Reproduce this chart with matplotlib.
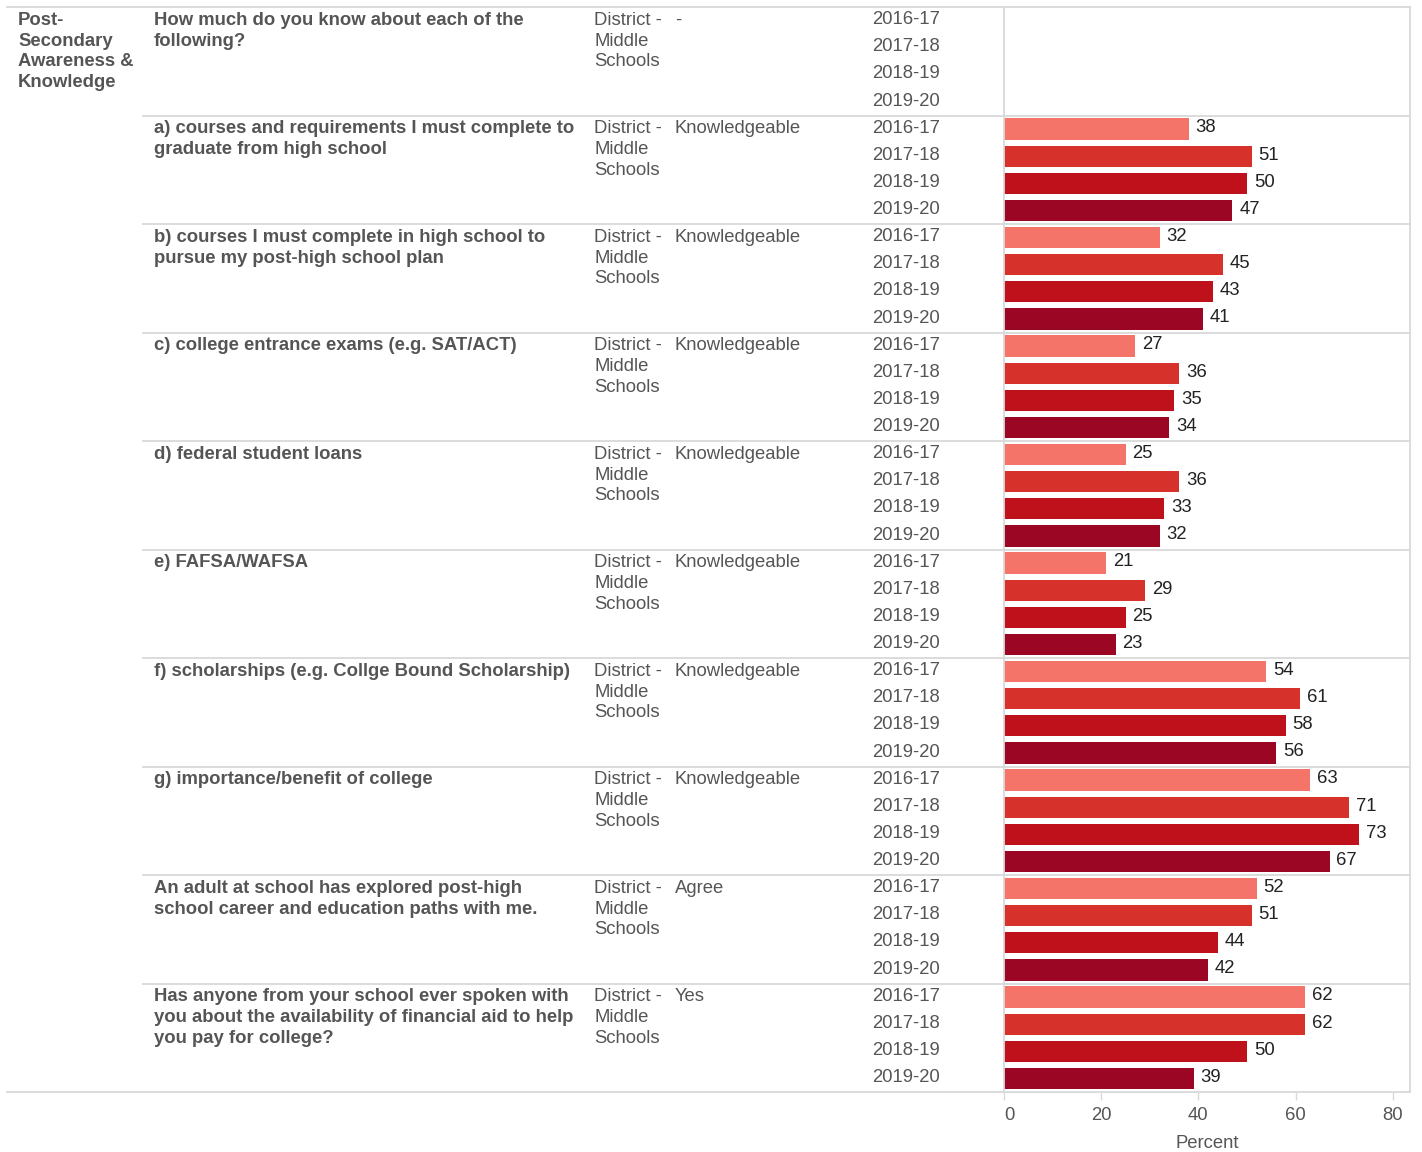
import numpy as np
import matplotlib
matplotlib.use('Agg')
import matplotlib.pyplot as plt
from matplotlib.lines import Line2D
from matplotlib.transforms import blended_transform_factory

plt.rcParams['font.family'] = ['Liberation Sans', 'DejaVu Sans']

# DATA
section = 'Post-\nSecondary\nAwareness &\nKnowledge'
questions = [
    'How much do you know about each of the\nfollowing?',
    'a) courses and requirements I must complete to\ngraduate from high school',
    'b) courses I must complete in high school to\npursue my post-high school plan',
    'c) college entrance exams (e.g. SAT/ACT)',
    'd) federal student loans',
    'e) FAFSA/WAFSA',
    'f) scholarships (e.g. Collge Bound Scholarship)',
    'g) importance/benefit of college',
    'An adult at school has explored post-high\nschool career and education paths with me.',
    'Has anyone from your school ever spoken with\nyou about the availability of financial aid to help\nyou pay for college?',
]
group = 'District -\nMiddle\nSchools'
responses = ['-', 'Knowledgeable', 'Knowledgeable', 'Knowledgeable', 'Knowledgeable',
             'Knowledgeable', 'Knowledgeable', 'Knowledgeable', 'Agree', 'Yes']
years = ['2016-17', '2017-18', '2018-19', '2019-20']
values = [
    None,
    [38, 51, 50, 47],
    [32, 45, 43, 41],
    [27, 36, 35, 34],
    [25, 36, 33, 32],
    [21, 29, 25, 23],
    [54, 61, 58, 56],
    [63, 71, 73, 67],
    [52, 51, 44, 42],
    [62, 62, 50, 39],
]
year_colors = ['#f4746a', '#d6312b', '#be111b', '#9c0625']

# LAYOUT (pixels)
W, H = 1422, 1152
top_px, bot_px = 7, 1092
left_px, right_px = 1004, 1410
grey_line = '#d9d9d9'
txt = '#555555'
fs = 13.3
ls = 1.3

fig = plt.figure(figsize=(W / 100, H / 100), dpi=100)
ax = fig.add_axes([left_px / W, (H - bot_px) / H, (right_px - left_px) / W, (bot_px - top_px) / H])

n_blocks = len(questions)
n_rows = n_blocks * len(years)
ax.set_ylim(n_rows, 0)
ax.set_xlim(0, (right_px - left_px) / 4.86)

trans = blended_transform_factory(fig.transFigure, ax.transData)
px = lambda x: x / W

for b in range(n_blocks):
    y0 = b * len(years)
    # text columns
    if b == 0:
        ax.text(px(18), y0 + 0.17, section, transform=trans, ha='left', va='top',
                fontsize=fs, fontweight='bold', color=txt, linespacing=ls)
    ax.text(px(154), y0 + 0.17, questions[b], transform=trans, ha='left', va='top',
            fontsize=fs, fontweight='bold', color=txt, linespacing=ls)
    ax.text(px(594), y0 + 0.17, group, transform=trans, ha='left', va='top',
            fontsize=fs, color=txt, linespacing=ls)
    ax.text(px(675), y0 + 0.17, responses[b], transform=trans, ha='left', va='top',
            fontsize=fs, color=txt)
    for i, yr in enumerate(years):
        ax.text(px(872), y0 + i + 0.47, yr, transform=trans, ha='left', va='center',
                fontsize=fs, color=txt)
    # bars
    if values[b] is not None:
        ys = y0 + np.arange(len(years)) + 0.5
        ax.barh(ys, values[b], height=0.78, color=year_colors, linewidth=0)
        for y, v in zip(ys, values[b]):
            ax.text(v + 1.4, y - 0.04, str(v), ha='left', va='center', fontsize=fs, color='#222222')
    # separator line
    if b > 0:
        fig.add_artist(Line2D([px(143), px(right_px)], [y0, y0], transform=trans,
                              color=grey_line, lw=1.3))

# outer lines
fig.add_artist(Line2D([px(7), px(right_px)], [0, 0], transform=trans, color=grey_line, lw=1.3))
fig.add_artist(Line2D([px(7), px(right_px)], [n_rows, n_rows], transform=trans, color=grey_line, lw=1.3))

for s in ['top', 'bottom']:
    ax.spines[s].set_visible(False)
for s in ['left', 'right']:
    ax.spines[s].set_color(grey_line)
    ax.spines[s].set_linewidth(1.3)

ax.set_yticks([])
ax.set_xticks([0, 20, 40, 60, 80])
ax.tick_params(axis='x', length=6, width=1, color=grey_line, labelcolor=txt, labelsize=fs, pad=5)
ax.get_xticklabels()[0].set_horizontalalignment('left')
ax.set_xlabel('Percent', fontsize=fs, color=txt, labelpad=8)

fig.savefig('out.png', dpi=100)
